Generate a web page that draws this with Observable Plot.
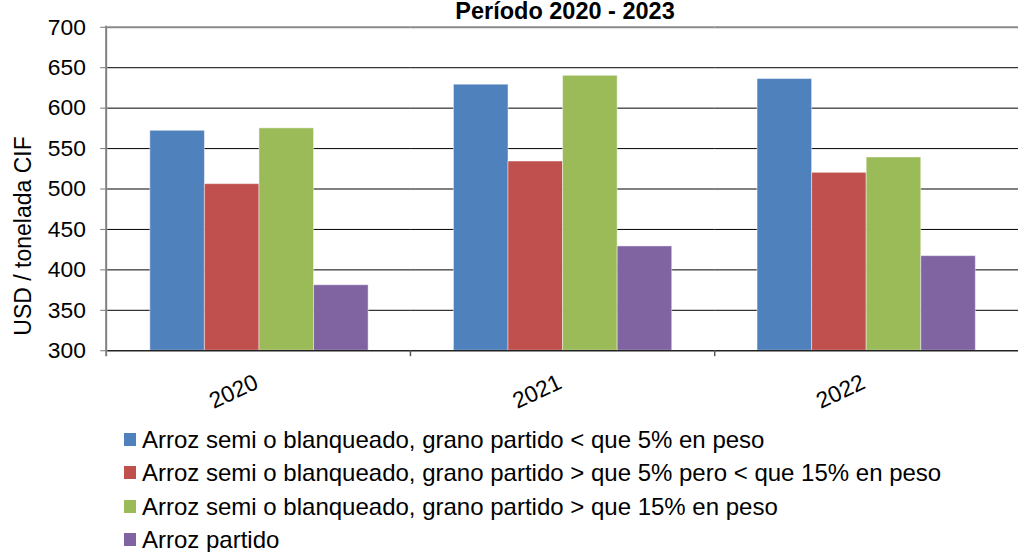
<!DOCTYPE html>
<html>
<head>
<meta charset="utf-8">
<script src="https://cdn.jsdelivr.net/npm/d3@7"></script>
<script src="https://cdn.jsdelivr.net/npm/@observablehq/plot@0.6"></script>
<style>
  html, body { margin: 0; padding: 0; background: #fff; overflow: hidden; }
  body { width: 1019px; height: 552px; position: relative; font-family: "Liberation Sans", Arial, sans-serif; color: #000; }
  #title { position: absolute; left: 0; width: 1130px; top: 0px; text-align: center; font-weight: bold; font-size: 23.5px; line-height: 23px; }
  #chart { position: absolute; left: 0; top: 0; }
  #ylabel { position: absolute; left: 22.5px; top: 235.5px; width: 0; height: 0; }
  #ylabel span { position: absolute; left: 0; top: 0; transform: translate(-50%, -50%) rotate(-90deg); white-space: nowrap; font-size: 23px; line-height: 23px; }
  #legend { position: absolute; left: 124px; top: 423px; font-size: 24px; }
  .row { display: flex; align-items: center; height: 33.3px; line-height: 33.3px; white-space: nowrap; }
  .sw { width: 12px; height: 13px; margin-right: 6px; flex: none; }
</style>
</head>
<body>
<div id="title"></div>
<div id="chart"></div>
<div id="ylabel"><span></span></div>
<div id="legend"></div>
<script>
const title = "Período 2020 - 2023";
const yLabel = "USD / tonelada CIF";
const years = ["2020", "2021", "2022"];
const series = [
  "Arroz semi o blanqueado, grano partido < que 5% en peso",
  "Arroz semi o blanqueado, grano partido > que 5% pero < que 15% en peso",
  "Arroz semi o blanqueado, grano partido > que 15% en peso",
  "Arroz partido"
];
const serie1 = [572, 629, 636];
const serie2 = [506, 534, 520];
const serie3 = [575, 640, 539];
const serie4 = [381, 429, 417];
const colors = ["#4F81BD", "#C0504D", "#9BBB59", "#8064A2"];
const yTicks = [300, 350, 400, 450, 500, 550, 600, 650, 700];

const values = [serie1, serie2, serie3, serie4];
const rows = years.flatMap((yr, i) => series.map((s, j) => ({year: yr, serie: s, value: values[j][i]})));

document.getElementById("title").textContent = title;
document.querySelector("#ylabel span").textContent = yLabel;

const plot = Plot.plot({
  width: 1027,
  height: 420,
  marginLeft: 107,
  marginRight: 0,
  marginTop: 27,
  marginBottom: 67,
  style: {fontFamily: "'Liberation Sans', Arial, sans-serif", fontSize: "23px", color: "#000", background: "transparent"},
  fx: {domain: years, padding: 0, axis: null},
  x: {domain: series, paddingInner: 0, paddingOuter: 0.738, axis: null},
  y: {domain: [yTicks[0], yTicks[yTicks.length - 1]], axis: null},
  color: {domain: series, range: colors},
  marks: [
    Plot.gridY(yTicks.slice(1, -1), {stroke: "#000", strokeOpacity: 1, strokeWidth: 1}),
    Plot.ruleY([yTicks[yTicks.length - 1]], {stroke: "#8a8a8a", strokeWidth: 2}),
    Plot.barY(rows, {fx: "year", x: "serie", y1: yTicks[0], y2: "value", fill: "serie", stroke: "#ffffff", strokeOpacity: 0.45, strokeWidth: 1}),
    Plot.ruleY([yTicks[0]], {stroke: "#222", strokeWidth: 1.5}),
    Plot.axisY(yTicks, {tickSize: 7, tickPadding: 15, stroke: "#777", fill: "#000", fontSize: 23, label: null}),
    Plot.text(years, {fx: d => d, text: d => d, frameAnchor: "bottom", dx: -23, dy: 48, rotate: -25, fontSize: 23, fill: "#000"})
  ]
});
document.getElementById("chart").appendChild(plot);

// axis line on the left and category boundary ticks, from the library's scales
const ys = plot.scale("y");
const fxs = plot.scale("fx");
const svg = d3.select(plot.tagName.toLowerCase() === "svg" ? plot : plot.querySelector("svg"));
const yScale = d3.scaleLinear().domain(ys.domain).range(ys.range);
const y0 = yScale(yTicks[0]), y1 = yScale(yTicks[yTicks.length - 1]);
const band = d3.scaleBand().domain(fxs.domain).range(fxs.range).padding(0);
const g = svg.append("g");
g.append("line").attr("x1", band(years[0])).attr("x2", band(years[0]))
  .attr("y1", y1 - 1).attr("y2", y0 + 6).attr("stroke", "#808080").attr("stroke-width", 2);
years.slice(1).forEach(yr => {
  g.append("line").attr("x1", band(yr)).attr("x2", band(yr))
    .attr("y1", y0).attr("y2", y0 + 6).attr("stroke", "#555").attr("stroke-width", 1.5);
});

// legend
const legend = document.getElementById("legend");
series.forEach((s, i) => {
  const row = document.createElement("div");
  row.className = "row";
  const sw = document.createElement("span");
  sw.className = "sw";
  sw.style.background = colors[i];
  const t = document.createElement("span");
  t.textContent = s;
  row.appendChild(sw);
  row.appendChild(t);
  legend.appendChild(row);
});
</script>
</body>
</html>
